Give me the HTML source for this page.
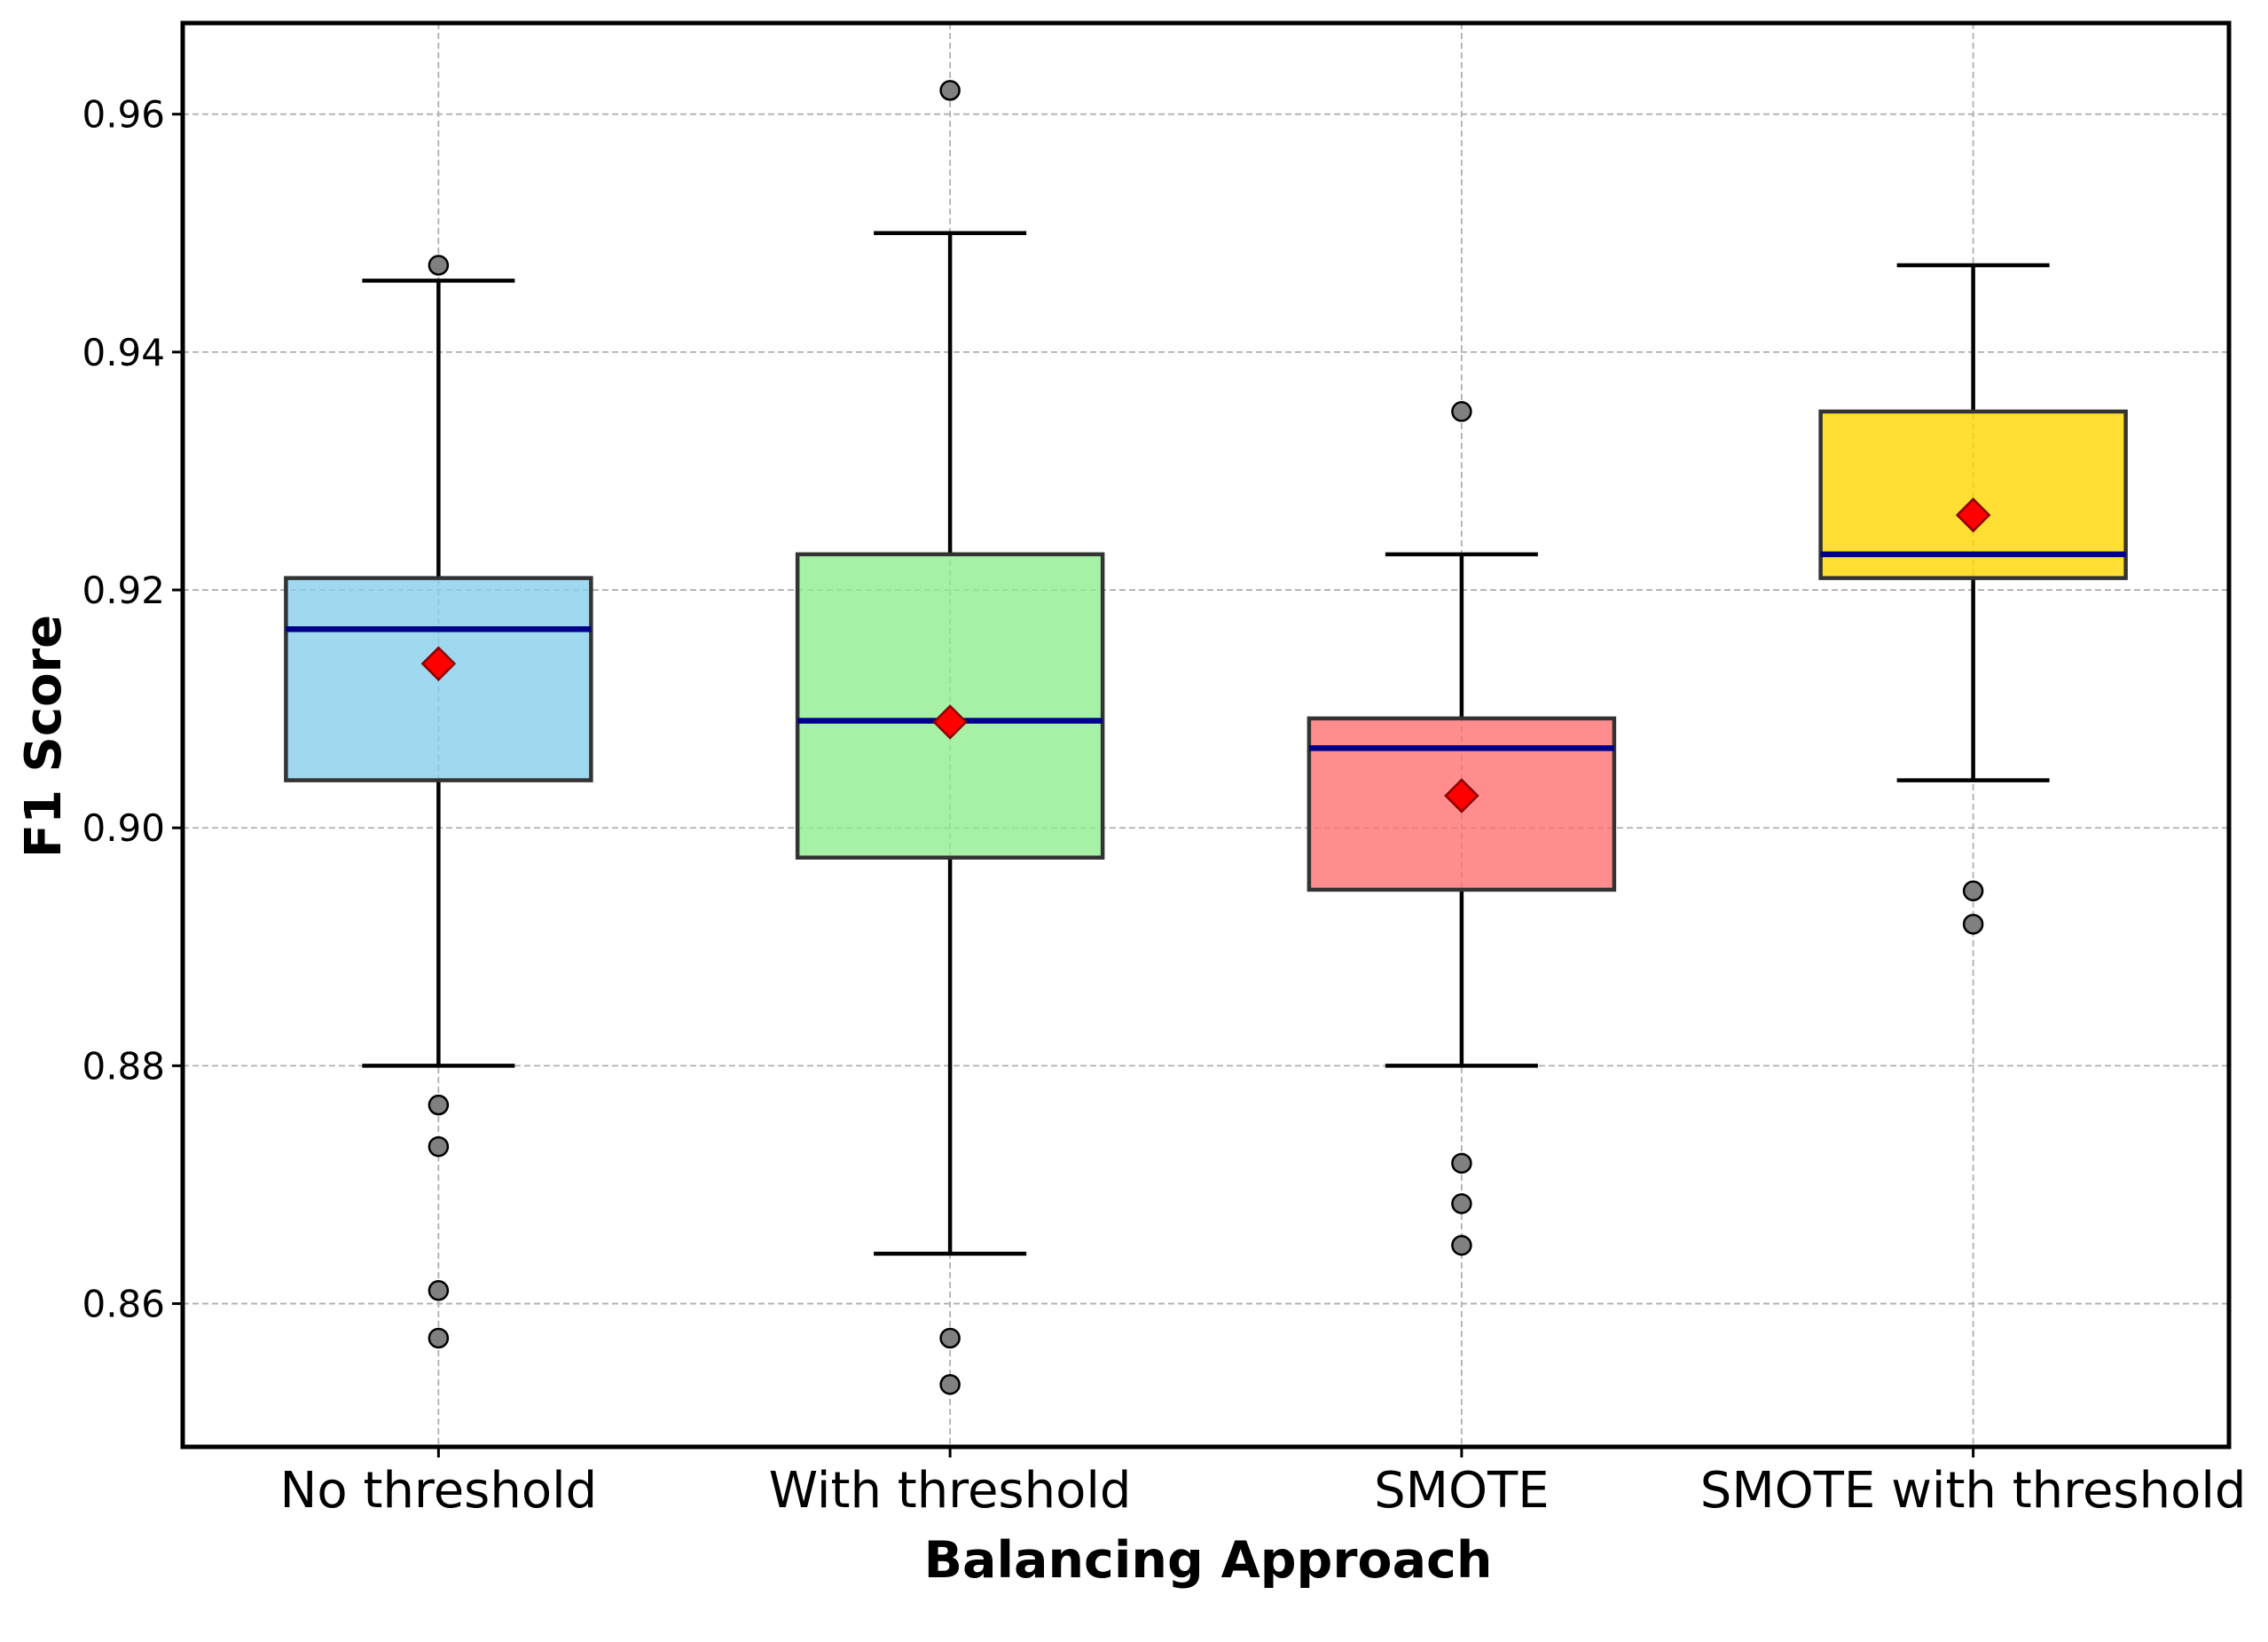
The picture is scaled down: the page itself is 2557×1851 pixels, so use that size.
<!DOCTYPE html>
<html><head><meta charset="utf-8"><style>
html,body{margin:0;padding:0;background:#fff;}
svg{display:block;font-family:"DejaVu Sans","Liberation Sans",sans-serif;}
</style></head><body>
<svg id="chart" width="2557" height="1851" viewBox="0 0 2557 1851" xmlns="http://www.w3.org/2000/svg">
<g id="grid"></g>
<g id="marks"></g>
<rect x="206" y="26" width="2307" height="1605" fill="none" stroke="#000" stroke-width="5"/>
<g id="axes"></g>
<text x="1362" y="1778" text-anchor="middle" font-size="57" font-weight="bold">Balancing Approach</text>
<text transform="translate(68,830) rotate(-90)" text-anchor="middle" font-size="56" font-weight="bold">F1 Score</text>
</svg>
<script>
const categories = ["No threshold","With threshold","SMOTE","SMOTE with threshold"];
const colors = ["#87ceeb","#90ee90","#ff7070","#ffd700"];
const q1 = [0.904,0.8975,0.8948,0.921];
const q3 = [0.921,0.923,0.9092,0.935];
const medians = [0.9167,0.909,0.9067,0.923];
const means = [0.9138,0.9089,0.9027,0.9263];
const whiskLo = [0.880,0.8642,0.880,0.904];
const whiskHi = [0.946,0.950,0.923,0.9473];
const outliers = [[0.9473,0.8767,0.8732,0.8611,0.8571],[0.962,0.8571,0.8532],[0.935,0.8718,0.8684,0.8649],[0.8947,0.8919]];
const yTicks = [0.86,0.88,0.90,0.92,0.94,0.96];

const L=206,R=2513,T=26,B=1631,yMin=0.84796,yMax=0.96766;
const y=v=>B-(v-yMin)/(yMax-yMin)*(B-T);
const slot=(R-L)/4;
const x=i=>L+slot*(i+0.5);
const NS="http://www.w3.org/2000/svg";
function mk(tag,attrs,parent){const e=document.createElementNS(NS,tag);for(const k in attrs)e.setAttribute(k,attrs[k]);parent.appendChild(e);return e;}
const grid=document.getElementById('grid'),marks=document.getElementById('marks'),axes=document.getElementById('axes');
yTicks.forEach(t=>{
  const g=mk('line',{x1:L,x2:R,y1:y(t),y2:y(t),stroke:'#b0b0b0','stroke-width':1.8,'stroke-dasharray':'7,4'},grid);
  
  
  const tk=mk('line',{x1:L-12,x2:L,y1:y(t),y2:y(t),stroke:'#000','stroke-width':3},axes);
  
  
  const tx=mk('text',{x:L-20,y:y(t)+15,'text-anchor':'end','font-size':42},axes);
  tx.textContent=t.toFixed(2);
  
  
});
categories.forEach((c,i)=>{
  const cx=x(i),hw=172,cap=86;
  const g=mk('line',{x1:cx,x2:cx,y1:T,y2:B,stroke:'#b0b0b0','stroke-width':1.8,'stroke-dasharray':'7,4'},grid);
  
  
  const grp=mk('g',{},marks);
  
  
  mk('line',{x1:cx,x2:cx,y1:y(q1[i]),y2:y(whiskLo[i]),stroke:'#000','stroke-width':4.5},grp);
  mk('line',{x1:cx,x2:cx,y1:y(q3[i]),y2:y(whiskHi[i]),stroke:'#000','stroke-width':4.5},grp);
  mk('line',{x1:cx-cap,x2:cx+cap,y1:y(whiskLo[i]),y2:y(whiskLo[i]),stroke:'#000','stroke-width':4.5},grp);
  mk('line',{x1:cx-cap,x2:cx+cap,y1:y(whiskHi[i]),y2:y(whiskHi[i]),stroke:'#000','stroke-width':4.5},grp);
  mk('rect',{x:cx-hw,y:y(q3[i]),width:2*hw,height:y(q1[i])-y(q3[i]),fill:colors[i],'fill-opacity':0.8,stroke:'#333','stroke-width':4.5},grp);
  mk('line',{x1:cx-hw,x2:cx+hw,y1:y(medians[i]),y2:y(medians[i]),stroke:'#00008b','stroke-width':6.5},grp);
  outliers[i].forEach(o=>{
    const p=mk('circle',{cx:cx,cy:y(o),r:10.5,fill:'#808080',stroke:'#000','stroke-width':2.5},grp);
    
    
  });
  const my=y(means[i]),d=18;
  const m=mk('polygon',{points:`${cx},${my-d} ${cx+d},${my} ${cx},${my+d} ${cx-d},${my}`,fill:'#ff0000',stroke:'#8b0000','stroke-width':2.5},grp);
  
  
  const tk=mk('line',{x1:cx,x2:cx,y1:B,y2:B+12,stroke:'#000','stroke-width':3},axes);
  
  
  const tx=mk('text',{x:cx,y:B+68,'text-anchor':'middle','font-size':56},axes);
  tx.textContent=c;
  
  
});
</script>
</body></html>
